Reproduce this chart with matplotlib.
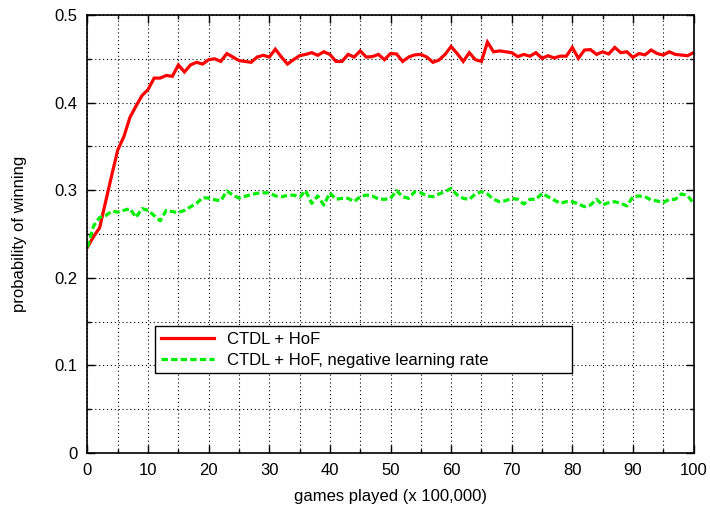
import matplotlib
matplotlib.use("Agg")
import matplotlib.pyplot as plt
from matplotlib.ticker import MultipleLocator

plt.rcParams['font.family'] = ['Liberation Sans', 'DejaVu Sans']

games = list(range(0, 101))

ctdl_hof = [
    0.235, 0.247, 0.257, 0.287, 0.317, 0.346, 0.361, 0.383, 0.396, 0.408,
    0.415, 0.428, 0.428, 0.431, 0.430, 0.443, 0.435, 0.443, 0.446, 0.444,
    0.449, 0.450, 0.447, 0.456, 0.452, 0.448, 0.447, 0.446, 0.452, 0.454,
    0.452, 0.461, 0.452, 0.444, 0.449, 0.4535, 0.455, 0.457, 0.454, 0.458,
    0.455, 0.447, 0.447, 0.455, 0.452, 0.459, 0.452, 0.4525, 0.455, 0.449,
    0.456, 0.4555, 0.447, 0.452, 0.4545, 0.455, 0.452, 0.446, 0.4486, 0.455,
    0.464, 0.456, 0.447, 0.457, 0.449, 0.447, 0.469, 0.458, 0.459, 0.458,
    0.457, 0.4525, 0.455, 0.453, 0.457, 0.4505, 0.4535, 0.451, 0.453, 0.453,
    0.463, 0.4505, 0.460, 0.4605, 0.455, 0.458, 0.4555, 0.463, 0.457, 0.458,
    0.4517, 0.456, 0.4545, 0.460, 0.456, 0.4543, 0.458, 0.455, 0.4543, 0.4535,
    0.457,
]

ctdl_hof_neg = [
    0.235, 0.259, 0.269, 0.271, 0.276, 0.275, 0.277, 0.279, 0.269, 0.279,
    0.277, 0.271, 0.265, 0.277, 0.2755, 0.2745, 0.277, 0.281, 0.285, 0.2915,
    0.291, 0.289, 0.288, 0.299, 0.2945, 0.291, 0.293, 0.295, 0.2965, 0.297,
    0.297, 0.2935, 0.2925, 0.294, 0.2945, 0.292, 0.2995, 0.285, 0.2935, 0.283,
    0.297, 0.2896, 0.2907, 0.2907, 0.287, 0.2926, 0.2945, 0.2934, 0.290, 0.2896,
    0.2907, 0.2995, 0.2926, 0.2907, 0.2983, 0.2971, 0.2934, 0.2926, 0.2957, 0.2983,
    0.302, 0.2945, 0.2907, 0.2895, 0.2957, 0.2983, 0.2957, 0.2896, 0.2869, 0.288,
    0.2907, 0.2896, 0.2842, 0.2896, 0.2896, 0.2964, 0.2926, 0.2888, 0.285, 0.2869,
    0.2869, 0.2842, 0.2812, 0.2831, 0.2896, 0.2831, 0.2858, 0.2869, 0.285, 0.282,
    0.2926, 0.2934, 0.2926, 0.2888, 0.2877, 0.2858, 0.2896, 0.2896, 0.2957, 0.2940,
    0.285,
]

x_ticks = [0, 10, 20, 30, 40, 50, 60, 70, 80, 90, 100]
y_ticks = [0, 0.1, 0.2, 0.3, 0.4, 0.5]
y_tick_labels = ['0', '0.1', '0.2', '0.3', '0.4', '0.5']

fig = plt.figure(figsize=(7.1, 5.07), dpi=100)
ax = fig.add_axes([0.1232, 0.1065, 0.8536, 0.8639])

ax.plot(games, ctdl_hof, color='#ff0000', lw=2.3, label='CTDL + HoF',
        solid_joinstyle='miter')
ax.plot(games, ctdl_hof_neg, color='#00ee00', lw=2.3, dashes=(2, 1),
        label='CTDL + HoF, negative learning rate')

ax.set_xlim(0, 100)
ax.set_ylim(0, 0.5)
ax.set_xticks(x_ticks)
ax.set_yticks(y_ticks)
ax.set_yticklabels(y_tick_labels)
ax.xaxis.set_minor_locator(MultipleLocator(5))
ax.yaxis.set_minor_locator(MultipleLocator(0.05))

ax.grid(True, which='both', color='black', linestyle=(0, (1, 2.5)), lw=0.8)
ax.tick_params(which='major', direction='in', length=6, width=1,
               top=True, right=True, labelsize=12, pad=7, colors='black')
ax.tick_params(which='minor', direction='in', length=3, width=1,
               top=True, right=True)
for s in ax.spines.values():
    s.set_linewidth(1.2)

ax.set_xlabel('games played (x 100,000)', fontsize=12, labelpad=8)
ax.set_ylabel('probability of winning', fontsize=12, labelpad=20)

leg = ax.legend(loc='upper left', bbox_to_anchor=(0.111, 0.19, 0.688, 0.10),
                mode='expand', fontsize=12, frameon=True, fancybox=False,
                framealpha=1, edgecolor='black', borderpad=0.35,
                handlelength=3.2, handletextpad=0.8, labelspacing=0.35,
                borderaxespad=0)
leg.get_frame().set_linewidth(1.0)

fig.savefig('out.png', dpi=100)
